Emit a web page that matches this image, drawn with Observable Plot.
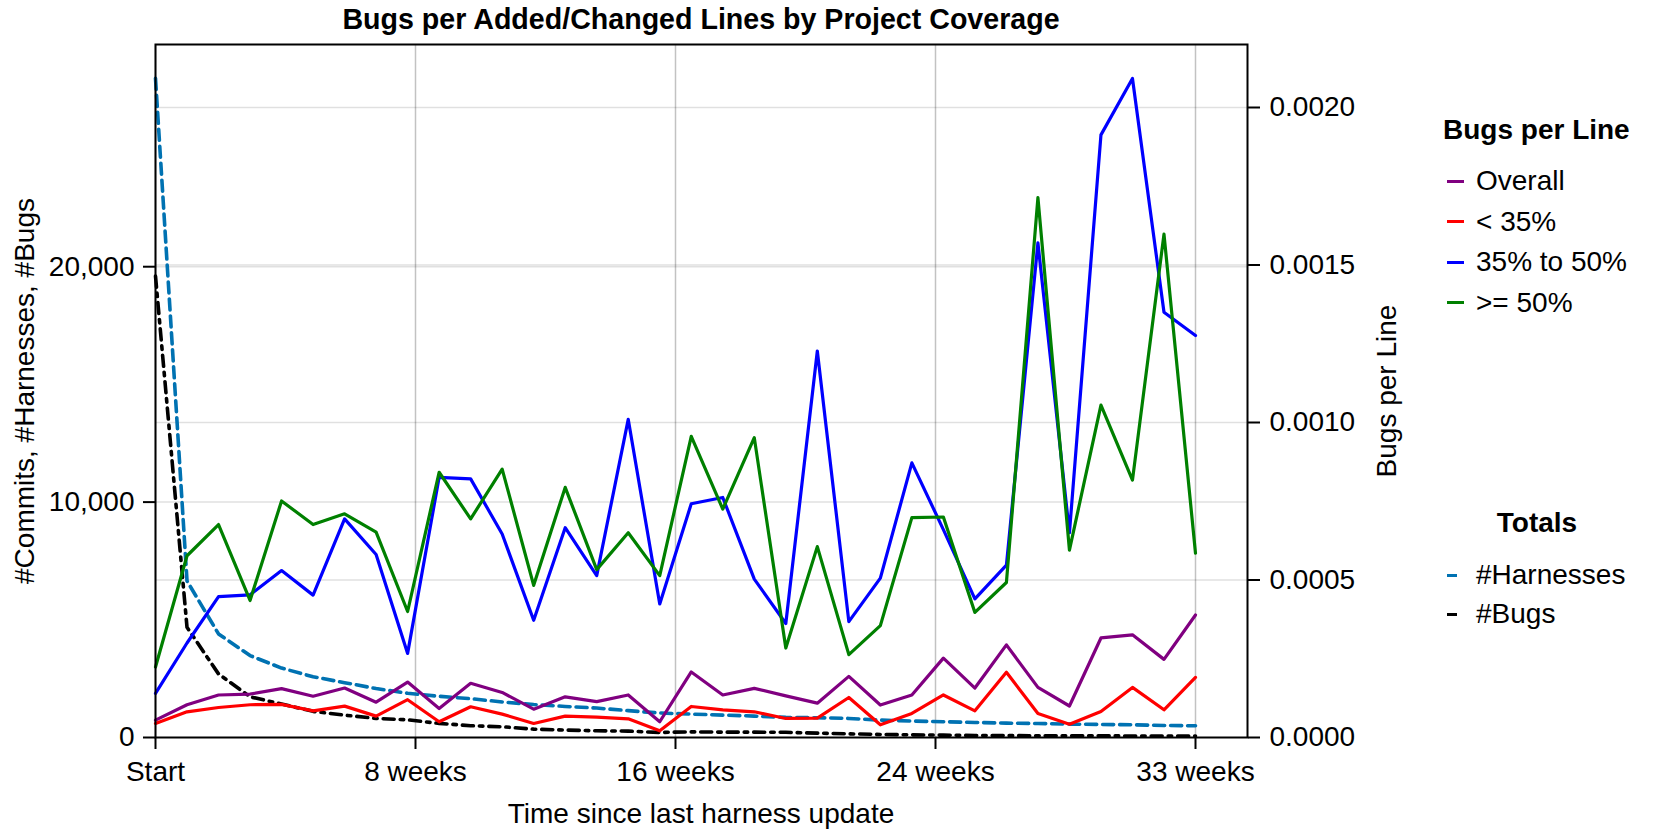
<!DOCTYPE html>
<html>
<head>
<meta charset="utf-8">
<script src="https://cdn.jsdelivr.net/npm/d3@7"></script>
<script src="https://cdn.jsdelivr.net/npm/@observablehq/plot@0.6"></script>
<style>
  html, body { margin: 0; padding: 0; background: #fff; }
  #wrap { position: relative; width: 1661px; height: 830px; font-family: "Liberation Sans", Arial, sans-serif; color: #000; }
  .lbl { position: absolute; white-space: nowrap; font-size: 28px; line-height: 1; }
  .bold { font-weight: bold; }
  .sw { position: absolute; height: 3px; }
</style>
</head>
<body>
<div id="wrap"></div>
<script>
// ---- data ----
const weeks = d3.range(34);
const xTickValues = [0, 8.25, 16.5, 24.75, 33];
const xTickLabels = ["Start", "8 weeks", "16 weeks", "24 weeks", "33 weeks"];
const leftTickValues = [0, 10000, 20000];
const rightTickValues = [0, 0.0005, 0.0010, 0.0015, 0.0020];

const overall = [0.000055,0.000104,0.000135,0.000138,0.000155,0.000131,0.000157,0.000112,0.000176,0.000092,
  0.000172,0.000143,0.000090,0.000129,0.000114,0.000135,0.000050,0.000208,0.000135,0.000156,
  0.000132,0.000109,0.000194,0.000103,0.000135,0.000252,0.000157,0.000294,0.000159,0.000100,
  0.000316,0.000326,0.000248,0.000389];
const below35 = [0.0000445,0.0000816,0.0000953,0.000104,0.000105,0.0000847,0.0000996,0.0000678,0.000120,0.0000498,
  0.0000975,0.0000742,0.0000445,0.0000678,0.0000646,0.0000593,0.0000212,0.0000985,0.0000879,0.0000816,
  0.0000604,0.0000614,0.000127,0.0000403,0.0000763,0.000135,0.0000847,0.000207,0.0000763,0.0000424,
  0.0000826,0.000159,0.0000879,0.000191];
const mid35to50 = [0.00014,0.0003,0.000447,0.000453,0.00053,0.000452,0.000694,0.000581,0.000267,0.000826,
  0.000821,0.000646,0.000372,0.000666,0.000514,0.00101,0.000424,0.000742,0.000762,0.000503,
  0.000362,0.001227,0.000368,0.000506,0.000872,0.00066,0.00044,0.000547,0.00157,0.00065,
  0.001913,0.002092,0.00135,0.001276];
const above50 = [0.000224,0.000577,0.000676,0.000435,0.000751,0.000676,0.00071,0.000652,0.0004,0.000842,
  0.000694,0.000852,0.000483,0.000794,0.000533,0.00065,0.000514,0.000956,0.000725,0.000952,
  0.000284,0.000606,0.000263,0.000355,0.000698,0.0007,0.000397,0.000492,0.001714,0.000595,
  0.001055,0.000817,0.001598,0.000585];
const harnesses = [28000,6650,4400,3480,2950,2580,2330,2080,1880,1750,
  1650,1510,1400,1320,1250,1140,1040,995,950,910,
  855,840,810,740,700,670,640,610,595,570,
  555,540,512,498];
const bugs = [19600,4680,2700,1730,1420,1110,950,810,750,600,
  500,455,355,315,285,270,215,240,228,228,
  220,185,156,128,114,100,85,80,75,72,
  70,65,62,60];

const rateSeries = [
  {name: "Overall", values: overall, color: "#800080"},
  {name: "< 35%", values: below35, color: "#ff0000"},
  {name: "35% to 50%", values: mid35to50, color: "#0000ff"},
  {name: ">= 50%", values: above50, color: "#008000"}
];
const totalSeries = [
  {name: "#Harnesses", values: harnesses, color: "#0072b2", dash: "11,6"},
  {name: "#Bugs", values: bugs, color: "#000000", dash: "11,6,3.5,6"}
];

// ---- scales ----
const xMax = 34.65;
const rightMax = 0.0022;
const leftMax = 29440;
const k = rightMax / leftMax; // maps left-axis values onto the shared y scale

const W = 1661, H = 830;
const mL = 155, mR = W - 1247, mT = 44, mB = H - 737;

const fmtLeft = d3.format(",");
const fmtRight = d3.format(".4f");

const marks = [
  Plot.gridY(rightTickValues.filter(d => d > 0), {stroke: "#000", strokeOpacity: 0.12, strokeWidth: 1.5}),
  Plot.gridY(leftTickValues.filter(d => d > 0).map(d => d * k), {stroke: "#000", strokeOpacity: 0.12, strokeWidth: 1.5}),
  Plot.gridX(xTickValues, {stroke: "#000", strokeOpacity: 0.24, strokeWidth: 1.5})
];
for (const s of totalSeries) {
  marks.push(Plot.line(weeks, {x: d => d, y: d => s.values[d] * k, stroke: s.color, strokeWidth: 3.6, strokeDasharray: s.dash}));
}
for (const s of rateSeries) {
  marks.push(Plot.line(weeks, {x: d => d, y: d => s.values[d], stroke: s.color, strokeWidth: 3.2}));
}
marks.push(
  Plot.axisX(xTickValues, {tickFormat: d => xTickLabels[xTickValues.indexOf(d)], tickSize: 12, tickPadding: 12, strokeWidth: 2, fontSize: 28, label: null}),
  Plot.axisY(leftTickValues.map(d => d * k), {anchor: "left", tickFormat: d => fmtLeft(Math.round(d / k)), tickSize: 12, tickPadding: 9, strokeWidth: 2, fontSize: 28, label: null}),
  Plot.axisY(rightTickValues, {anchor: "right", tickFormat: d => fmtRight(d), tickSize: 12, tickPadding: 10, strokeWidth: 2, fontSize: 28, label: null}),
  Plot.frame({stroke: "#000", strokeWidth: 2})
);

const chart = Plot.plot({
  width: W, height: H,
  marginLeft: mL, marginRight: mR, marginTop: mT, marginBottom: mB,
  style: {fontFamily: "'Liberation Sans', Arial, sans-serif", fontSize: "28px", color: "#000", background: "transparent", overflow: "visible"},
  x: {domain: [0, xMax]},
  y: {domain: [0, rightMax]},
  marks
});
const wrap = document.getElementById("wrap");
chart.style.position = "absolute";
chart.style.left = "0px";
chart.style.top = "0px";
wrap.appendChild(chart);

// ---- text overlays ----
function label(text, x, y, opts = {}) {
  const el = document.createElement("div");
  el.className = "lbl" + (opts.bold ? " bold" : "");
  el.textContent = text;
  el.style.left = x + "px";
  el.style.top = y + "px";
  if (opts.size) el.style.fontSize = opts.size + "px";
  const anchor = opts.anchor || "start";
  const tx = anchor === "middle" ? "-50%" : anchor === "end" ? "-100%" : "0";
  el.style.transform = `translate(${tx}, -50%)`;
  wrap.appendChild(el);
  return el;
}
function rotLabel(text, cx, cy) {
  const el = document.createElement("div");
  el.className = "lbl";
  el.textContent = text;
  el.style.left = cx + "px";
  el.style.top = cy + "px";
  el.style.transform = "translate(-50%, -50%) rotate(-90deg)";
  wrap.appendChild(el);
}
const plotCx = (mL + (W - mR)) / 2;
label("Bugs per Added/Changed Lines by Project Coverage", plotCx, 19, {anchor: "middle", bold: true, size: 28.6});
label("Time since last harness update", plotCx, 814, {anchor: "middle"});
rotLabel("#Commits, #Harnesses, #Bugs", 25, (mT + H - mB) / 2);
rotLabel("Bugs per Line", 1387, (mT + H - mB) / 2);

// legends
label("Bugs per Line", 1443, 130, {bold: true});
rateSeries.forEach((s, i) => {
  const y = 181 + i * 40.5;
  const sw = document.createElement("div");
  sw.className = "sw";
  sw.style.left = "1447px"; sw.style.top = (y - 1.5) + "px"; sw.style.width = "17px";
  sw.style.background = s.color;
  wrap.appendChild(sw);
  label(s.name, 1476, y);
});
label("Totals", 1537, 523, {anchor: "middle", bold: true});
totalSeries.forEach((s, i) => {
  const y = 575 + i * 39;
  const sw = document.createElement("div");
  sw.className = "sw";
  sw.style.left = "1447px"; sw.style.top = (y - 1.5) + "px"; sw.style.width = "10px";
  sw.style.background = s.color;
  wrap.appendChild(sw);
  label(s.name, 1476, y);
});
</script>
</body>
</html>
